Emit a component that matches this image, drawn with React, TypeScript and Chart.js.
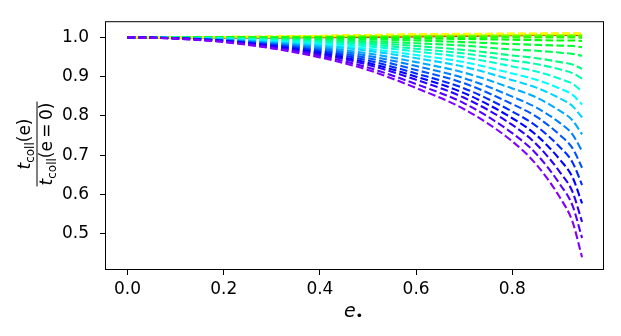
import React, { useEffect, useRef } from 'react';
import { Chart, registerables } from 'chart.js';

Chart.register(...registerables);

// eccentricity sample points (shared by all curves)
const eValues = [0, 0.1, 0.2, 0.3, 0.4, 0.5, 0.6, 0.7, 0.8, 0.85, 0.9, 0.925, 0.945];

// t_coll(e) / t_coll(e=0), one array per curve (violet -> red)
const curve00 = [1, 0.997, 0.988, 0.972, 0.949, 0.917, 0.871, 0.817, 0.735, 0.676, 0.590, 0.531, 0.440];
const curve01 = [1, 0.997, 0.989, 0.974, 0.953, 0.923, 0.881, 0.832, 0.756, 0.703, 0.624, 0.572, 0.489];
const curve02 = [1, 0.997, 0.990, 0.976, 0.957, 0.930, 0.892, 0.846, 0.777, 0.728, 0.655, 0.607, 0.530];
const curve03 = [1, 0.998, 0.991, 0.978, 0.960, 0.935, 0.900, 0.858, 0.794, 0.751, 0.687, 0.644, 0.577];
const curve04 = [1, 0.998, 0.991, 0.980, 0.964, 0.941, 0.908, 0.870, 0.811, 0.774, 0.719, 0.682, 0.624];
const curve05 = [1, 0.998, 0.992, 0.982, 0.967, 0.947, 0.917, 0.883, 0.830, 0.798, 0.750, 0.718, 0.668];
const curve06 = [1, 0.998, 0.993, 0.984, 0.971, 0.953, 0.927, 0.896, 0.849, 0.821, 0.781, 0.753, 0.710];
const curve07 = [1, 0.998, 0.994, 0.986, 0.975, 0.959, 0.937, 0.910, 0.870, 0.847, 0.812, 0.789, 0.753];
const curve08 = [1, 0.999, 0.995, 0.988, 0.979, 0.966, 0.947, 0.925, 0.891, 0.872, 0.844, 0.825, 0.796];
const curve09 = [1, 0.999, 0.996, 0.990, 0.982, 0.971, 0.955, 0.937, 0.908, 0.892, 0.869, 0.854, 0.829];
const curve10 = [1, 0.999, 0.997, 0.992, 0.986, 0.977, 0.964, 0.949, 0.926, 0.913, 0.894, 0.882, 0.862];
const curve11 = [1, 0.999, 0.997, 0.994, 0.989, 0.982, 0.971, 0.959, 0.941, 0.932, 0.918, 0.909, 0.895];
const curve12 = [1, 0.999, 0.998, 0.995, 0.991, 0.986, 0.978, 0.968, 0.954, 0.947, 0.937, 0.931, 0.920];
const curve13 = [1, 1.000, 0.999, 0.997, 0.994, 0.990, 0.985, 0.979, 0.969, 0.966, 0.961, 0.958, 0.953];
const curve14 = [1, 1.000, 0.999, 0.998, 0.997, 0.995, 0.992, 0.988, 0.983, 0.981, 0.979, 0.978, 0.975];
const curve15 = [1, 1.000, 1.000, 0.999, 0.999, 0.998, 0.997, 0.996, 0.994, 0.993, 0.992, 0.992, 0.991];
const curve16 = [1, 1, 1, 1, 1, 1, 1, 1, 1, 1, 1, 1, 0.999];
const curve17 = [1, 1, 1, 1.0005, 1.001, 1.0015, 1.002, 1.002, 1.0025, 1.0025, 1.0025, 1.0025, 1.0025];
const curve18 = [1, 1, 1.0005, 1.001, 1.0015, 1.002, 1.0025, 1.003, 1.0035, 1.004, 1.004, 1.004, 1.004];
const curve19 = [1, 1, 1.0005, 1.001, 1.0015, 1.0025, 1.003, 1.004, 1.0045, 1.005, 1.005, 1.005, 1.005];
const curve20 = [1, 1, 1.0005, 1.001, 1.002, 1.003, 1.004, 1.005, 1.0055, 1.006, 1.006, 1.006, 1.006];
const curve21 = [1, 1, 1.001, 1.002, 1.004, 1.006, 1.008, 1.009, 1.0095, 1.0098, 1.01, 1.01, 1.01];
const curve22 = [1, 1, 1.001, 1.002, 1.0035, 1.0055, 1.0075, 1.0085, 1.009, 1.0093, 1.0095, 1.0095, 1.0095];
const curve23 = [1, 1, 1.0005, 1.0015, 1.003, 1.005, 1.0065, 1.0075, 1.0083, 1.0087, 1.009, 1.009, 1.009];
const curve24 = [1, 1, 1.0005, 1.001, 1.0025, 1.004, 1.0055, 1.0068, 1.0076, 1.008, 1.0083, 1.0085, 1.0085];
const curve25 = [1, 1, 1, 1.0005, 1.0015, 1.003, 1.0045, 1.006, 1.007, 1.0074, 1.0077, 1.0078, 1.008];
const curve26 = [1, 1, 1, 1.0005, 1.001, 1.002, 1.0035, 1.005, 1.0062, 1.0067, 1.007, 1.0072, 1.0074];
const curve27 = [1, 1, 1, 1, 1.0005, 1.0012, 1.0025, 1.004, 1.0055, 1.006, 1.0064, 1.0066, 1.0068];

const curves = [
  curve00, curve01, curve02, curve03, curve04, curve05, curve06, curve07,
  curve08, curve09, curve10, curve11, curve12, curve13, curve14, curve15,
  curve16, curve17, curve18, curve19, curve20, curve21, curve22, curve23,
  curve24, curve25, curve26, curve27,
];

const xTicks = [0, 0.2, 0.4, 0.6, 0.8];
const yTicks = [0.5, 0.6, 0.7, 0.8, 0.9, 1.0];

const FONT = "'DejaVu Sans', sans-serif";

const decorPlugin = {
  id: 'decor',
  afterDraw(chart: any) {
    const { ctx, chartArea } = chart;
    const { left, top, right, bottom } = chartArea;
    ctx.save();
    // frame
    ctx.strokeStyle = '#000';
    ctx.lineWidth = 1;
    ctx.strokeRect(left + 0.5, top + 0.5, right - left - 1, bottom - top - 1);

    // x-axis title: e with bullet subscript
    ctx.fillStyle = '#000';
    ctx.textBaseline = 'alphabetic';
    ctx.textAlign = 'left';
    ctx.font = `italic 19px ${FONT}`;
    ctx.fillText('e', 344, 317);
    ctx.font = `13px ${FONT}`;
    ctx.fillText('•', 355.5, 320);

    // y-axis title: fraction, rotated
    ctx.translate(37, 144);
    ctx.rotate(-Math.PI / 2);
    const big = `17px ${FONT}`;
    const bigIt = `italic 17px ${FONT}`;
    const small = `12px ${FONT}`;
    const drawPieces = (pieces: [string, string, number][], baseline: number) => {
      let total = 0;
      for (const [txt, f] of pieces) {
        ctx.font = f;
        total += ctx.measureText(txt).width;
      }
      let x = -total / 2;
      for (const [txt, f, dy] of pieces) {
        ctx.font = f;
        ctx.fillText(txt, x, baseline + dy);
        x += ctx.measureText(txt).width;
      }
      return total;
    };
    drawPieces([
      ['t', bigIt, 0],
      ['coll', small, 3.5],
      ['(e)', big, 0],
    ], -7);
    const w = drawPieces([
      ['t', bigIt, 0],
      ['coll', small, 3.5],
      ['(e\u2009=\u20090)', big, 0],
    ], 15);
    ctx.fillRect(-w / 2 - 1, -0.5, w + 2, 1);
    ctx.restore();
  },
};

export default function App() {
  const canvasRef = useRef<HTMLCanvasElement | null>(null);

  useEffect(() => {
    const canvas = canvasRef.current;
    if (!canvas) return;
    const datasets = curves.map((c, i) => ({
      data: eValues.map((x, j) => ({ x, y: c[j] })),
      borderColor: `hsl(${270 - 10 * i}, 100%, 50%)`,
      borderWidth: 2.1,
      borderDash: [7.7, 3.3],
      borderDashOffset: i >= 21 ? 5.5 : 0,
      borderCapStyle: 'butt' as const,
      pointRadius: 0,
      fill: false,
      cubicInterpolationMode: 'monotone' as const,
    }));

    const chart = new Chart(canvas, {
      type: 'line',
      data: { datasets },
      options: {
        responsive: false,
        animation: false,
        devicePixelRatio: 1,
        layout: { padding: { left: 0, right: 17, top: 19, bottom: 0 } },
        plugins: {
          legend: { display: false },
          tooltip: { enabled: false },
          title: { display: false },
        },
        scales: {
          x: {
            type: 'linear',
            min: -0.0468,
            max: 0.9906,
            afterBuildTicks: (scale: any) => {
              scale.ticks = xTicks.map((v) => ({ value: v }));
            },
            afterFit: (scale: any) => {
              scale.height = 66;
            },
            ticks: {
              autoSkip: false,
              maxRotation: 0,
              padding: 4,
              color: '#000',
              font: { family: FONT, size: 17 },
              callback: (v: any) => Number(v).toFixed(1),
            },
            grid: {
              display: true,
              drawOnChartArea: false,
              drawTicks: true,
              tickLength: 5,
              color: '#000',
              lineWidth: 1,
            },
            border: { display: false },
          },
          y: {
            type: 'linear',
            min: 0.4074,
            max: 1.0412,
            afterBuildTicks: (scale: any) => {
              scale.ticks = yTicks.map((v) => ({ value: v }));
            },
            afterFit: (scale: any) => {
              scale.width = 105;
            },
            ticks: {
              autoSkip: false,
              padding: 11,
              color: '#000',
              font: { family: FONT, size: 17 },
              callback: (v: any) => Number(v).toFixed(1),
            },
            grid: {
              display: true,
              drawOnChartArea: false,
              drawTicks: true,
              tickLength: 5,
              color: '#000',
              lineWidth: 1,
            },
            border: { display: false },
          },
        },
      },
      plugins: [decorPlugin],
    });
    return () => chart.destroy();
  }, []);

  return (
    <div style={{ position: 'fixed', left: 0, top: 0, width: 621, height: 336, background: '#fff' }}>
      <canvas ref={canvasRef} width={621} height={336} style={{ display: 'block' }} />
    </div>
  );
}
